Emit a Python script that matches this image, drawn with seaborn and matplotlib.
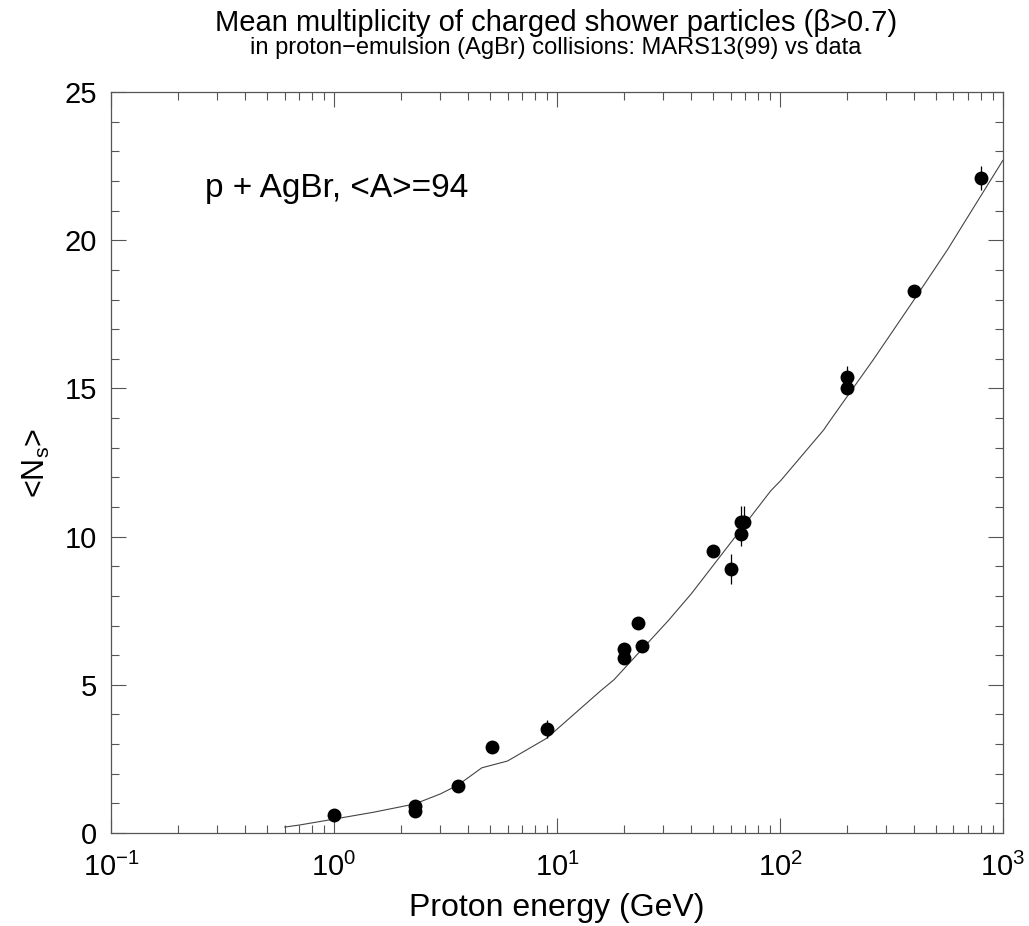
import numpy as np
import pandas as pd
import matplotlib
matplotlib.use('Agg')
import matplotlib.pyplot as plt
import matplotlib.ticker as mticker
import seaborn as sns

# measured data (proton energy in GeV, mean multiplicity <Ns>, error)
data_energy = [1.0, 2.3, 2.3, 3.6, 5.1, 9.0, 20.0, 20.0, 23.0, 24.0,
               50.0, 60.0, 67.0, 67.0, 69.0, 200.0, 200.0, 400.0, 800.0]
data_ns = [0.6, 0.9, 0.75, 1.6, 2.9, 3.5, 6.2, 5.9, 7.1, 6.3,
           9.5, 8.9, 10.1, 10.5, 10.5, 15.4, 15.0, 18.3, 22.1]
data_err = [0.1, 0.1, 0.1, 0.1, 0.15, 0.3, 0.15, 0.15, 0.2, 0.2,
            0.2, 0.5, 0.4, 0.55, 0.55, 0.35, 0.2, 0.2, 0.42]

# MARS13(99) curve
mars_energy = [0.6, 0.7, 1.0, 1.5, 2.3, 3.0, 3.6, 4.6, 6.0, 9.0, 15.7, 18.0,
               31.5, 40.0, 91.0, 101.0, 157.0, 169.0, 261.0, 400.0, 566.0, 646.0, 1000.0]
mars_ns = [0.2, 0.27, 0.47, 0.7, 0.98, 1.32, 1.62, 2.2, 2.43, 3.2, 4.8, 5.17,
           7.16, 8.07, 11.55, 11.9, 13.6, 13.95, 15.95, 18.0, 19.7, 20.4, 22.7]

title = 'Mean multiplicity of charged shower particles (\u03b2>0.7)'
subtitle = 'in proton\u2212emulsion (AgBr) collisions: MARS13(99) vs data'
note = 'p + AgBr, <A>=94'

df_data = pd.DataFrame({'E': data_energy, 'Ns': data_ns, 'err': data_err})
df_mars = pd.DataFrame({'E': mars_energy, 'Ns': mars_ns})

sns.set_style('ticks')
plt.rcParams['font.family'] = ['Liberation Sans', 'DejaVu Sans']
plt.rcParams['mathtext.fontset'] = 'custom'
plt.rcParams['mathtext.rm'] = 'Liberation Sans'
plt.rcParams['mathtext.it'] = 'Liberation Sans'
plt.rcParams['text.color'] = 'black'
plt.rcParams['axes.labelcolor'] = 'black'
plt.rcParams['xtick.labelcolor'] = 'black'
plt.rcParams['ytick.labelcolor'] = 'black'

fig = plt.figure(figsize=(10.29, 9.26), dpi=100)
ax = fig.add_axes([0.1079, 0.1004, 0.8668, 0.8002])

sns.lineplot(data=df_mars, x='E', y='Ns', ax=ax, color='#444444', linewidth=0.8)
ax.errorbar(df_data['E'], df_data['Ns'], yerr=df_data['err'], fmt='none',
            ecolor='black', elinewidth=0.9, capsize=0)
sns.scatterplot(data=df_data, x='E', y='Ns', ax=ax, color='black', s=100,
                edgecolor='black', linewidth=0, zorder=5)

ax.set_xscale('log')
ax.set_xlim(0.1, 1000)
ax.set_ylim(0, 25)
ax.yaxis.set_major_locator(mticker.MultipleLocator(5))
ax.yaxis.set_minor_locator(mticker.MultipleLocator(1))
ax.xaxis.set_minor_locator(mticker.LogLocator(base=10, subs=np.arange(2, 10), numticks=20))
ax.xaxis.set_minor_formatter(mticker.NullFormatter())

ax.tick_params(which='both', direction='in', top=True, right=True,
               color='#555555', width=0.8)
ax.tick_params(which='major', length=11, labelsize=21)
ax.tick_params(axis='x', which='major', pad=14)
ax.tick_params(axis='y', which='major', pad=10)
ax.tick_params(which='minor', length=6)
for s in ax.spines.values():
    s.set_color('#555555')
    s.set_linewidth(0.9)

ax.set_xlabel('Proton energy (GeV)', fontsize=23, labelpad=8)
ax.set_ylabel(r'<N$_s$>', fontsize=22, labelpad=9)

ax.text(0.105, 0.87, note, transform=ax.transAxes, fontsize=24,
        ha='left', va='center')

fig.text(0.54, 0.975, title, ha='center', va='center', fontsize=21)
fig.text(0.54, 0.948, subtitle, ha='center', va='center', fontsize=17)

fig.savefig('out.png', dpi=100)
